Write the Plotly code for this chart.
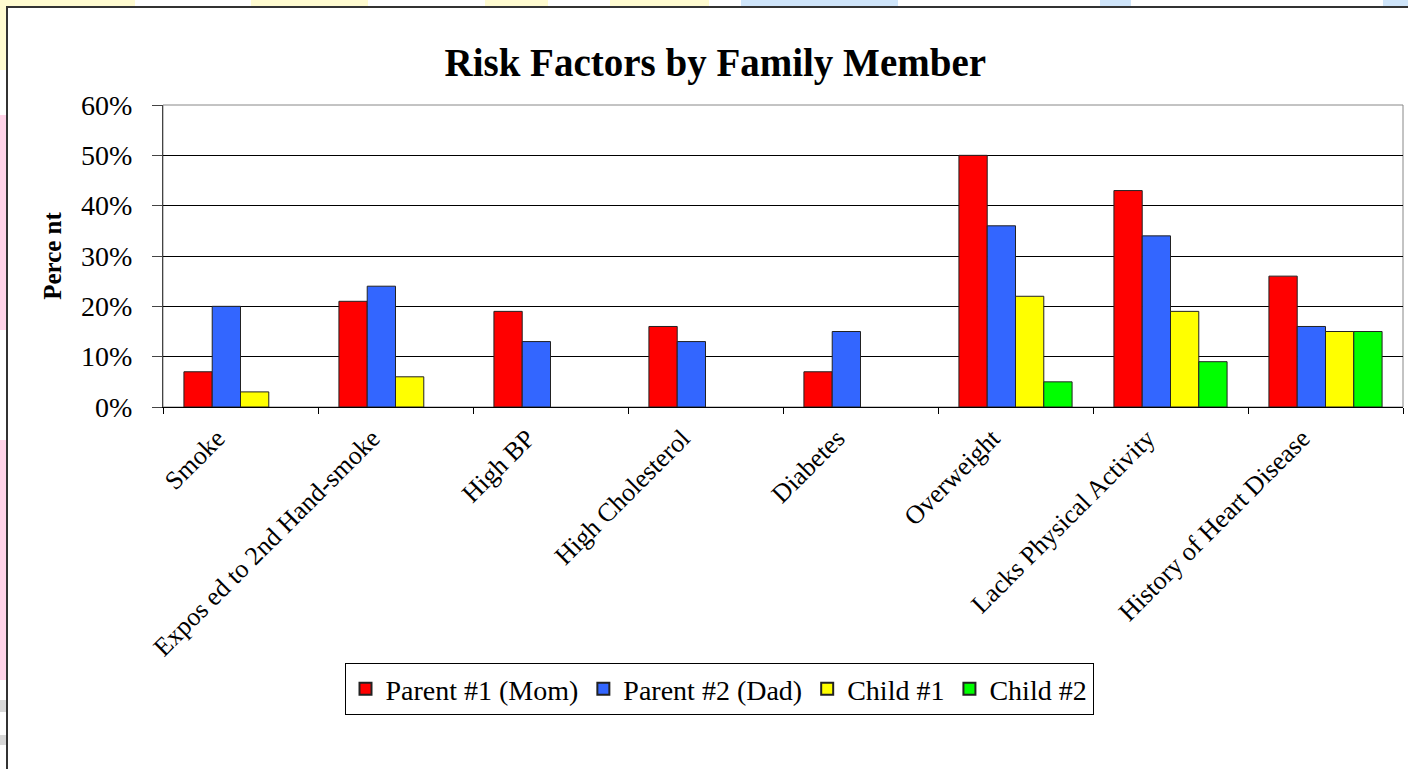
import plotly.graph_objects as go

categories = ["Smoke", "Expos ed to 2nd Hand-smoke", "High BP", "High Cholesterol",
              "Diabetes", "Overweight", "Lacks Physical Activity", "History of Heart Disease"]
mom = [7, 21, 19, 16, 7, 50, 43, 26]
dad = [20, 24, 13, 13, 15, 36, 34, 16]
child1 = [3, 6, None, None, None, 22, 19, 15]
child2 = [None, None, None, None, None, 5, 9, 15]
series_names = ["Parent #1 (Mom)", "Parent #2 (Dad)", "Child #1", "Child #2"]
series_colors = ["#FF0000", "#3366FF", "#FFFF00", "#00FF00"]
y_ticks = [0, 10, 20, 30, 40, 50, 60]

W, H = 1408, 769
L, R, T, B = 163, 1403, 105, 407
LABEL_SHIFT = 0.15  # category labels sit slightly left of the group centre


def px2x(p):
    return (p - L) / (R - L)


def py2y(p):
    return (B - p) / (B - T)


fig = go.Figure()
for name, vals, col in zip(series_names, [mom, dad, child1, child2], series_colors):
    fig.add_trace(go.Bar(x=categories, y=vals, name=name,
                         marker=dict(color=col, line=dict(color="#222222", width=1))))
# invisible carrier for the (shifted) category label axis
fig.add_trace(go.Scatter(x=categories, y=[None] * len(categories), xaxis="x2",
                         mode="markers", showlegend=False, hoverinfo="skip"))

serif = "Liberation Serif, Times New Roman, serif"
shapes = []
# background strips (slide background around the chart)
for x0, x1, c in [(0, 135, "#FFFBD0"), (251, 368, "#FFFBD0"), (485, 548, "#FFFBD0"),
                  (610, 709, "#FFFBD0"), (741, 898, "#CFE5FA"), (1100, 1131, "#CFE5FA"),
                  (1383, 1408, "#CFE5FA")]:
    shapes.append(dict(type="rect", xref="paper", yref="paper", x0=px2x(x0), x1=px2x(x1),
                       y0=py2y(0), y1=py2y(7), fillcolor=c, line=dict(width=0), layer="below"))
for y0, y1, c in [(0, 70, "#FFFBD0"), (115, 330, "#FFD3E8"), (440, 680, "#FFD3E8"),
                  (700, 712, "#D8D8D8"), (735, 745, "#D8D8D8")]:
    shapes.append(dict(type="rect", xref="paper", yref="paper", x0=px2x(0), x1=px2x(7),
                       y0=py2y(y0), y1=py2y(y1), fillcolor=c, line=dict(width=0), layer="below"))
# chart frame
shapes.append(dict(type="rect", xref="paper", yref="paper", x0=px2x(7), x1=px2x(1420),
                   y0=py2y(7), y1=py2y(790), fillcolor="white",
                   line=dict(color="#333333", width=2), layer="below"))
# plot area border
shapes.append(dict(type="rect", xref="paper", yref="paper", x0=0, x1=1, y0=0, y1=1,
                   line=dict(color="#888888", width=1), layer="below"))

n = len(categories)
fig.update_layout(
    width=W, height=H,
    margin=dict(l=L, r=W - R, t=T, b=H - B),
    paper_bgcolor="white", plot_bgcolor="white",
    barmode="group", bargap=0.27, bargroupgap=0,
    font=dict(family=serif, color="black"),
    title=dict(text="<b>Risk Factors by Family Member</b>", xref="container", yref="container",
               x=0.508, xanchor="center", y=1 - 62 / H, yanchor="middle",
               font=dict(family=serif, size=39, color="black")),
    showlegend=True,
    legend=dict(orientation="h", x=px2x(719), xanchor="center", y=py2y(663), yanchor="top",
                bordercolor="black", borderwidth=1, bgcolor="white",
                font=dict(family=serif, size=28, color="black"), traceorder="normal",
                itemsizing="constant"),
    shapes=shapes,
    xaxis=dict(type="category", range=[-0.5, n - 0.5], showline=True, linecolor="black",
               linewidth=1, ticks="outside", ticklen=6, tickcolor="black",
               tickson="boundaries", showgrid=False, showticklabels=False),
    xaxis2=dict(type="category", overlaying="x", anchor="y", side="bottom",
                range=[-0.5 + LABEL_SHIFT, n - 0.5 + LABEL_SHIFT],
                showline=False, ticks="", showgrid=False, zeroline=False,
                tickangle=-45, ticklabelstandoff=10,
                tickfont=dict(family=serif, size=26, color="black")),
)
fig.update_yaxes(range=[0, 60], tickvals=y_ticks, ticktext=[f"{v}%" for v in y_ticks],
                 showgrid=True, gridcolor="black", gridwidth=1, zeroline=False,
                 showline=True, linecolor="#444444", linewidth=1,
                 ticks="outside", ticklen=10, tickcolor="#444444",
                 ticklabelstandoff=14,
                 tickfont=dict(family=serif, size=28, color="black"),
                 title=dict(text="<b>Perce nt</b>", font=dict(family=serif, size=25, color="black"),
                            standoff=12))

fig.write_html("out.html")
